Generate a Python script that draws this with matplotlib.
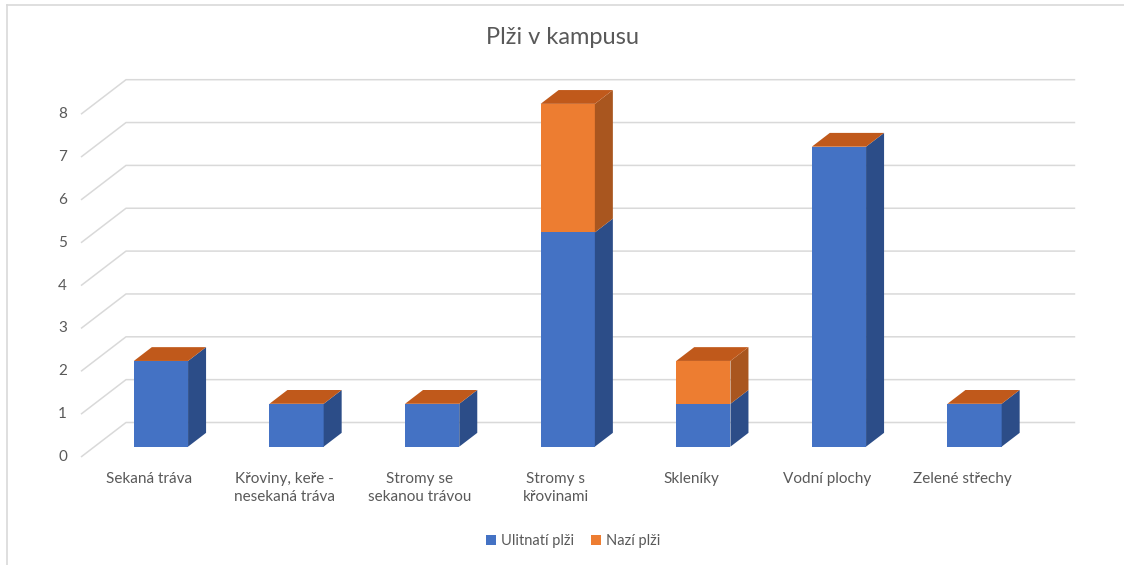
import numpy as np
import matplotlib.pyplot as plt
from matplotlib.patches import Polygon, Patch
from matplotlib.lines import Line2D

plt.rcParams['font.family'] = ['Lato', 'DejaVu Sans']

# data
categories = ['Sekaná tráva', 'Křoviny, keře -\nnesekaná tráva', 'Stromy se\nsekanou trávou',
              'Stromy s\nkřovinami', 'Skleníky', 'Vodní plochy', 'Zelené střechy']
ulitnati = [2, 1, 1, 5, 1, 7, 1]
nazi = [0, 0, 0, 3, 1, 0, 0]
series_names = ['Ulitnatí plži', 'Nazí plži']
yticks = list(range(0, 9))

W, H = 1124, 565
fig = plt.figure(figsize=(W / 100, H / 100), dpi=100)
ax = fig.add_axes([0, 0, 1, 1])

# pixel calibration of the front plane
x0px, stepx = 81, 135.6
y0px, stepy = 457, 42.85
ax.set_xlim(-0.5 - x0px / stepx, -0.5 + (W - x0px) / stepx)
ax.set_ylim((y0px - H) / stepy, y0px / stepy)
ax.axis('off')

# oblique depth offset (full depth) and bar placement in depth
dx, dy = 45 / stepx, 34.5 / stepy
z0, z1 = 0.3, 0.7
bw = 0.4
n = len(categories)

grid_c = '#d9d9d9'
text_c = '#595959'
front_c = ['#4472c4', '#ed7d31']
side_c = ['#2c4d88', '#a9561f']
top_c = '#c0591b'

# gridlines: side wall diagonals + back wall
for v in yticks:
    ax.plot([-0.5, -0.5 + dx, n - 0.5 + dx], [v, v + dy, v + dy],
            color=grid_c, lw=1.1, zorder=1, solid_capstyle='butt')
    ax.text(-0.5 - 14 / stepx, v, str(v), ha='right', va='center',
            fontsize=11, color=text_c)

# bars
for i in range(n):
    xl, xr = i - bw / 2, i + bw / 2
    bottom = 0
    for s, vals in enumerate([ulitnati, nazi]):
        h = vals[i]
        if h > 0:
            ax.bar(i + z0 * dx - 0.01, h, bottom=bottom + z0 * dy, width=bw,
                   color=front_c[s], linewidth=0, zorder=3)
            top = bottom + h
            side = [(xr + z0 * dx - 0.01, bottom + z0 * dy), (xr + z1 * dx - 0.01, bottom + z1 * dy),
                    (xr + z1 * dx - 0.01, top + z1 * dy), (xr + z0 * dx - 0.01, top + z0 * dy)]
            ax.add_patch(Polygon(side, closed=True, facecolor=side_c[s],
                                 linewidth=0, zorder=3))
            bottom = top
    topf = [(xl + z0 * dx - 0.01, bottom + z0 * dy), (xr + z0 * dx - 0.01, bottom + z0 * dy),
            (xr + z1 * dx - 0.01, bottom + z1 * dy), (xl + z1 * dx - 0.01, bottom + z1 * dy)]
    ax.add_patch(Polygon(topf, closed=True, facecolor=top_c, linewidth=0, zorder=3))
    ax.text(i, -15 / stepy, categories[i], ha='center', va='top',
            fontsize=11, color=text_c, linespacing=1.35)

# title
fig.text(0.5, 1 - 38 / H, 'Plži v kampusu', ha='center', va='center',
         fontsize=17, color=text_c)

# legend
handles = [Patch(facecolor=front_c[0]), Patch(facecolor=front_c[1])]
fig.legend(handles, series_names, loc='center', bbox_to_anchor=(573 / W, 1 - 541 / H),
           ncol=2, frameon=False, fontsize=10.5, handlelength=0.7, handleheight=0.7,
           handletextpad=0.3, columnspacing=1.2, labelcolor=text_c)

# chart border
fig.add_artist(Line2D([7 / W, 1], [1 - 5 / H, 1 - 5 / H], color=grid_c, lw=1.2))
fig.add_artist(Line2D([7 / W, 7 / W], [0, 1 - 5 / H], color=grid_c, lw=1.2))

fig.savefig('out.png', dpi=100)
